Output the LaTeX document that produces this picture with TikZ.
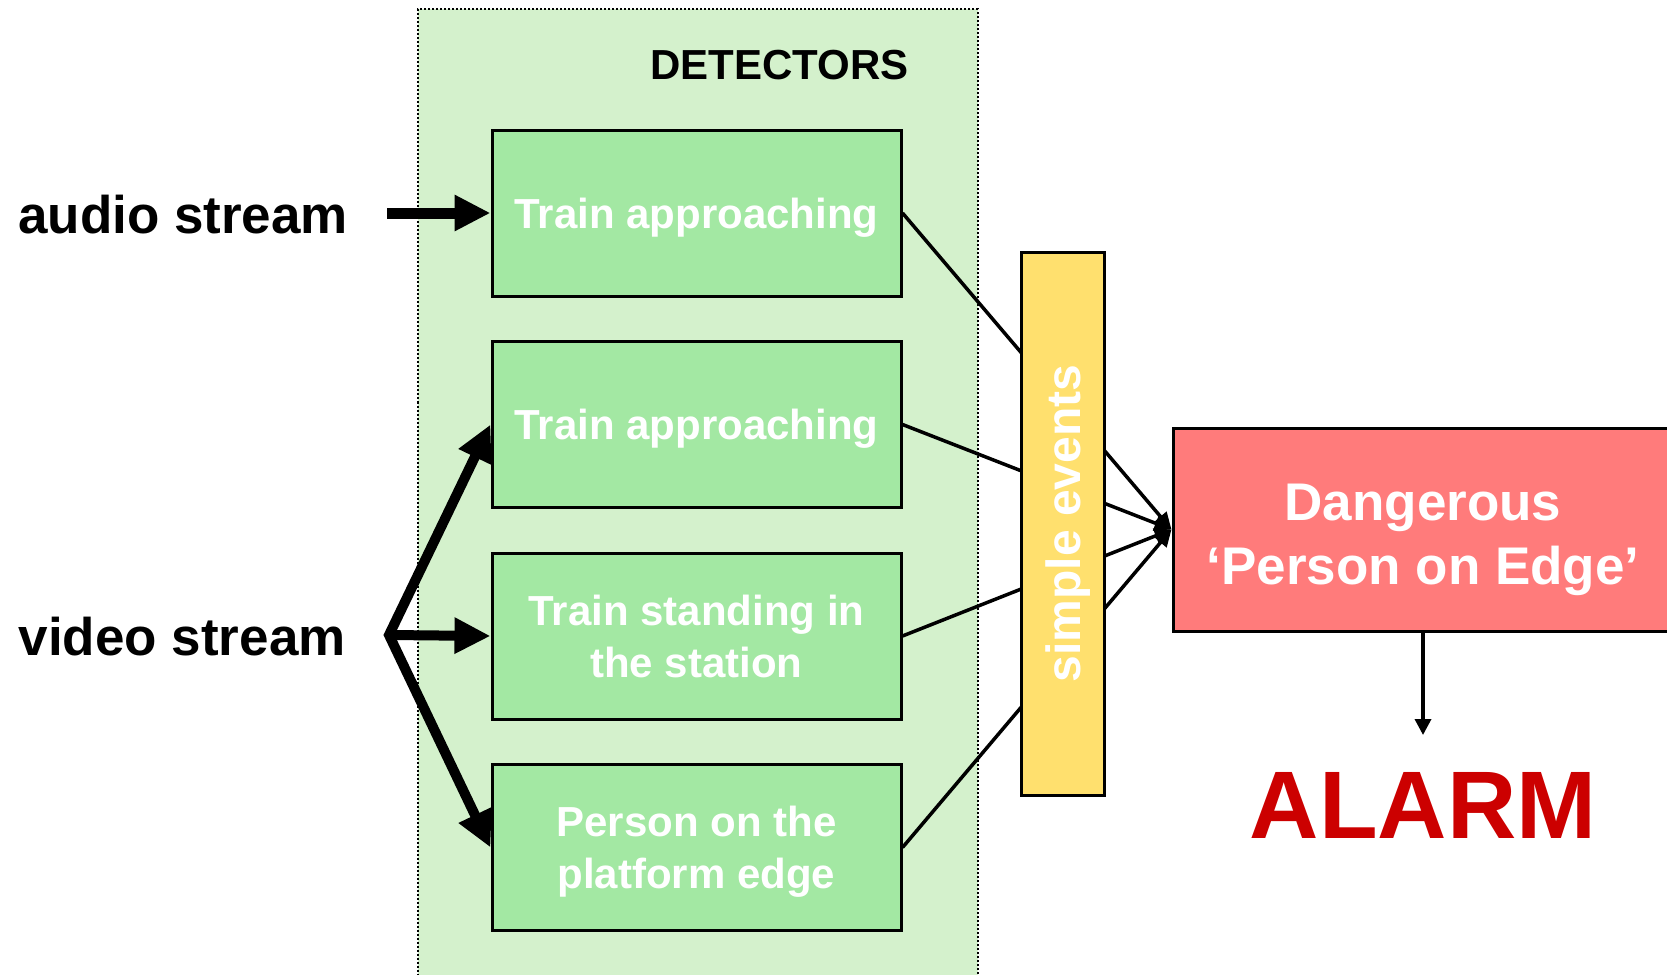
\documentclass[tikz,border=0pt]{standalone}
\usepackage{fontspec}
\setmainfont{Liberation Sans}
\usepackage{graphicx}
\usetikzlibrary{arrows.meta}
\definecolor{contgreen}{HTML}{D4F1CC}
\definecolor{boxgreen}{HTML}{A3E8A3}
\definecolor{evyellow}{HTML}{FFE06E}
\definecolor{dangred}{HTML}{FF7B7B}
\definecolor{alarmred}{HTML}{CC0000}
\begin{document}
\begin{tikzpicture}[x=1pt,y=-1pt,
  detbox/.style={draw=black,line width=3pt,fill=boxgreen,minimum width=409pt,minimum height=166pt,inner sep=0pt,align=center,text=white,text depth=0pt,font=\fontsize{42}{52}\selectfont\bfseries},
  thickarrow/.style={line width=10pt,-{Triangle[length=36pt,width=34pt]}},
  thinarrow/.style={line width=3.5pt,-{Triangle[length=17pt,width=15pt]}},
  labeltext/.style={font=\fontsize{53}{60}\selectfont\bfseries,anchor=base west,inner sep=0pt}]
\clip (0,0) rectangle (1667,974);
\fill[white] (0,0) rectangle (1667,974);
% detectors container
\node[draw=black,line width=2pt,dash pattern=on 2pt off 2pt,fill=contgreen,minimum width=560pt,minimum height=1000pt,inner sep=0pt,anchor=north west] (cont) at (417,8.5) {};
\node[font=\fontsize{42}{48}\selectfont\bfseries,inner sep=0pt,anchor=base] (det) at (779.5,80) {DETECTORS};
% detector boxes
\node[detbox] (b1) at (696.5,213) {Train approaching};
\node[detbox] (b2) at (696.5,424.5) {Train approaching};
\node[detbox] (b3) at (696.5,636) {Train standing in\\the station};
\node[detbox] (b4) at (696.5,847.5) {Person on the\\platform edge};
% complex event box
\node[draw=black,line width=3pt,fill=dangred,minimum width=500pt,minimum height=203pt,inner sep=0pt] (dang) at (1423,529.5) {};
\node[align=center,text=white,text depth=0pt,inner sep=0pt,font=\fontsize{53}{64}\selectfont\bfseries] (dangtxt) at (1423,534) {Dangerous\\‘Person on Edge’};
% connectors to complex event
\foreach \b in {b1,b2,b3,b4} \draw[thinarrow] (\b.east) -- (dang.west);
% simple events bar
\node[draw=black,line width=3pt,fill=evyellow,minimum width=83pt,minimum height=543pt,inner sep=0pt] (ev) at (1062.5,523.5) {};
\node[rotate=90,text=white,font=\fontsize{48}{50}\selectfont\bfseries,inner sep=0pt] (evt) at (1068,523.5) {simple events};
% stream labels
\node[labeltext] (audio) at (18,233) {audio stream};
\node[labeltext] (video) at (18.5,655) {video stream};
% stream arrows
\coordinate (as) at (387,213);
\draw[thickarrow,line width=11pt] (as) -- (b1.west);
\coordinate (vj) at (389,635);
\draw[line width=10pt,{Triangle[length=36pt,width=34pt]}-{Triangle[length=36pt,width=34pt]}] (b2.west) -- (vj) -- (b4.west);
\draw[thickarrow] (vj) -- (b3.west);
% alarm
\node[font=\fontsize{96}{100}\selectfont\bfseries,text=alarmred,anchor=base,inner sep=0pt] (alarm) at (1423,838) {ALARM};
\coordinate (atip) at (1423,735);
\draw[line width=3.5pt,-{Triangle[length=16pt,width=16pt]}] (dang.south) -- (atip);
\end{tikzpicture}
\end{document}
